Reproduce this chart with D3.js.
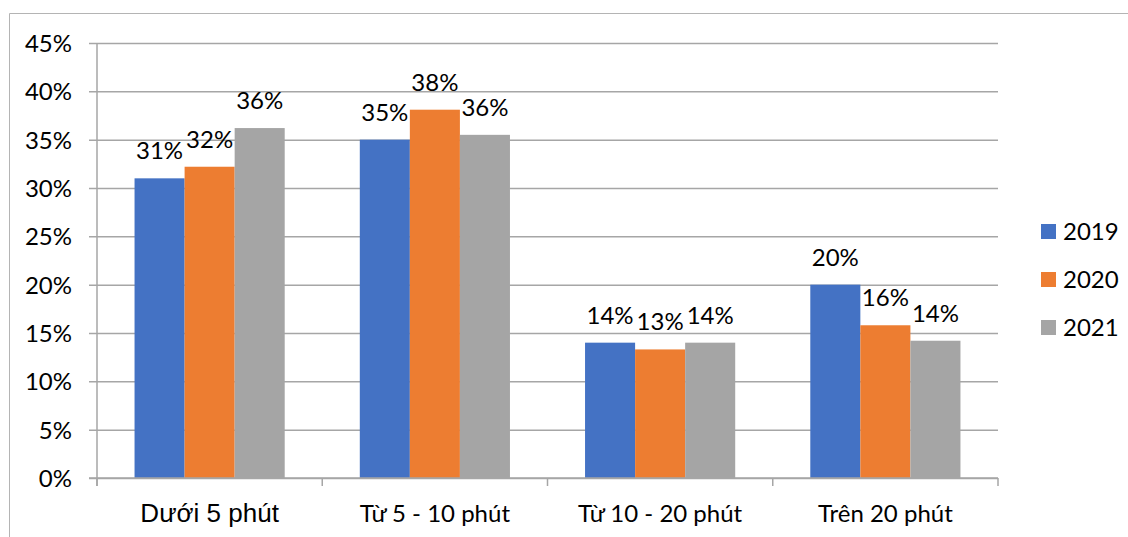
<!DOCTYPE html>
<html>
<head>
<meta charset="utf-8">
<script src="https://cdn.jsdelivr.net/npm/d3@7"></script>
<style>
  html, body { margin: 0; padding: 0; background: #fff; }
  svg { display: block; }
</style>
</head>
<body>
<svg id="chart" width="1128" height="537"></svg>
<script>
// Categories and series (values in percent)
const categories = ["Dưới 5 phút", "Từ 5 - 10 phút", "Từ 10 - 20 phút", "Trên 20 phút"];
const seriesNames = ["2019", "2020", "2021"];
const values2019 = [31.0, 35.0, 14.0, 20.0];
const values2020 = [32.2, 38.1, 13.3, 15.8];
const values2021 = [36.2, 35.5, 14.0, 14.2];
const yTicks = [0, 5, 10, 15, 20, 25, 30, 35, 40, 45];
const colors = ["#4472C4", "#ED7D31", "#A5A5A5"];

const seriesValues = [values2019, values2020, values2021];

const svg = d3.select("#chart");
const W = 1128, H = 537;
const plot = { left: 97, right: 998, top: 43, bottom: 478 };
const labelFont = "Lato, 'Open Sans', sans-serif";

// Outer chart frame (top and left edges visible)
svg.append("line").attr("x1", 9.5).attr("x2", W).attr("y1", 13.5).attr("y2", 13.5)
  .attr("stroke", "#b4b4b4").attr("stroke-width", 1);
svg.append("line").attr("x1", 9.5).attr("x2", 9.5).attr("y1", 13.5).attr("y2", H)
  .attr("stroke", "#b4b4b4").attr("stroke-width", 1);

const x0 = d3.scaleBand().domain(categories).range([plot.left, plot.right]).paddingInner(0).paddingOuter(0);
const x1 = d3.scaleBand().domain(seriesNames).range([0, x0.bandwidth()]).paddingInner(0).paddingOuter(0.75);
const y = d3.scaleLinear().domain([0, 45]).range([plot.bottom, plot.top]);

// Horizontal gridlines with short left ticks
const yAxis = d3.axisLeft(y).tickValues(yTicks).tickSize(-(plot.right - plot.left)).tickFormat(d => d + "%");
const gy = svg.append("g").attr("transform", `translate(${plot.left},0)`).call(yAxis);
gy.select(".domain").remove();
gy.selectAll(".tick line").attr("stroke", "#a6a6a6").attr("stroke-width", 1.5).attr("x1", -8);
gy.selectAll(".tick text").attr("x", -25).attr("dy", "0.35em")
  .attr("font-family", labelFont).attr("font-size", 24).attr("fill", "#000");

// Left axis line
svg.append("line").attr("x1", plot.left).attr("x2", plot.left).attr("y1", plot.top).attr("y2", plot.bottom + 8)
  .attr("stroke", "#a6a6a6").attr("stroke-width", 1.5);

// Bars
const groups = svg.append("g").selectAll("g").data(categories).join("g")
  .attr("transform", d => `translate(${x0(d)},0)`);

groups.each(function (cat, ci) {
  const g = d3.select(this);
  seriesNames.forEach((s, si) => {
    const v = seriesValues[si][ci];
    g.append("rect")
      .attr("x", x1(s)).attr("width", x1.bandwidth())
      .attr("y", y(v)).attr("height", y(0) - y(v))
      .attr("fill", colors[si]);
    g.append("text")
      .attr("x", x1(s) + x1.bandwidth() / 2).attr("y", y(v) - 19)
      .attr("text-anchor", "middle")
      .attr("font-family", labelFont).attr("font-size", 24).attr("fill", "#000")
      .text(Math.round(v) + "%");
  });
});

// Category axis
const xAxis = d3.axisBottom(x0).tickSize(0).tickFormat(d => d);
const gx = svg.append("g").attr("transform", `translate(0,${plot.bottom})`).call(xAxis);
gx.select(".domain").remove();
gx.selectAll(".tick text").attr("y", 44).attr("dy", 0)
  .attr("font-family", (d, i) => i === 0 ? "'Liberation Sans', Arial, sans-serif" : labelFont)
  .attr("font-size", (d, i) => i === 0 ? 26 : 24).attr("fill", "#000");

svg.append("line").attr("x1", plot.left - 8).attr("x2", plot.right).attr("y1", plot.bottom).attr("y2", plot.bottom)
  .attr("stroke", "#a6a6a6").attr("stroke-width", 1.5);
const boundaries = categories.map(c => x0(c)).concat([plot.right]);
svg.append("g").selectAll("line").data(boundaries).join("line")
  .attr("x1", d => d).attr("x2", d => d).attr("y1", plot.bottom).attr("y2", plot.bottom + 8)
  .attr("stroke", "#a6a6a6").attr("stroke-width", 1.5);

// Legend
const legend = svg.append("g").attr("transform", "translate(1041,224)");
const li = legend.selectAll("g").data(seriesNames).join("g")
  .attr("transform", (d, i) => `translate(0,${i * 48})`);
li.append("rect").attr("width", 15).attr("height", 15).attr("fill", (d, i) => colors[i]);
li.append("text").attr("x", 22).attr("y", 16)
  .attr("font-family", labelFont).attr("font-size", 24).attr("fill", "#000")
  .text(d => d);
</script>
</body>
</html>
